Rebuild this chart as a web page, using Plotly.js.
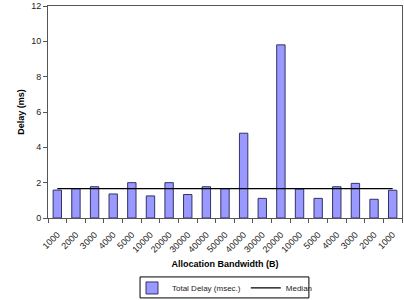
<!DOCTYPE html>
<html>
<head>
<meta charset="utf-8">
<script src="https://cdn.plot.ly/plotly-3.0.1.min.js"></script>
<style>html,body{margin:0;padding:0;background:#fff;}#chart{width:404px;height:300px;}</style>
</head>
<body>
<div id="chart"></div>
<script>
const categories = ["1000","2000","3000","4000","5000","10000","20000","30000","40000","50000","40000","30000","20000","10000","5000","4000","3000","2000","1000"];
const totalDelay = [1.58,1.66,1.77,1.36,2.0,1.25,2.0,1.33,1.77,1.66,4.8,1.11,9.8,1.64,1.11,1.77,1.96,1.06,1.57];
const medianValue = 1.66;
const yTicks = [0,2,4,6,8,10,12];

const idx = categories.map((c,i)=>i);
const medianLine = categories.map(()=>medianValue);

const traces = [
  {type:'bar', x: idx, y: totalDelay, name:'Total Delay (msec.)',
   marker:{color:'#9999ff', line:{color:'#333366', width:1}}, width:0.45},
  {type:'scatter', mode:'lines', x: idx, y: medianLine, name:'Median',
   line:{color:'#000000', width:1.3}}
];

const layout = {
  width:404, height:300,
  margin:{l:48, r:2, t:6, b:82, autoexpand:false},
  paper_bgcolor:'#fff', plot_bgcolor:'#fff',
  font:{family:'Liberation Sans, Arial, sans-serif', size:9, color:'#000'},
  showlegend:true,
  legend:{orientation:'h', x:0.5, xanchor:'center', y:-0.33, yanchor:'middle',
    bgcolor:'rgba(0,0,0,0)', borderwidth:0, font:{size:8, color:'#222'}, traceorder:'normal',
    itemwidth:30, tracegroupgap:0, valign:'middle'},
  shapes:[{type:'rect', xref:'paper', yref:'paper', x0:0.26, x1:0.737, y0:-0.377, y1:-0.278,
    line:{color:'#000', width:1}, fillcolor:'rgba(0,0,0,0)', layer:'below'}],
  xaxis:{range:[-0.5,18.5], tickmode:'array', tickvals:idx, ticktext:categories,
    tickangle:-45, ticks:'', showgrid:false, zeroline:false, automargin:false,
    ticklabelstandoff:7,
    showline:true, linecolor:'#555', linewidth:1, mirror:true,
    tickfont:{size:9, color:'#222'},
    minor:{tick0:-0.5, dtick:1, ticks:'outside', ticklen:4, tickcolor:'#555', showgrid:false},
    title:{text:'<b>Allocation Bandwidth (B)</b>', font:{size:9}, standoff:7}},
  yaxis:{range:[0,12], tickmode:'array', tickvals:yTicks, ticks:'outside', ticklen:4,
    tickcolor:'#555', showgrid:false, zeroline:false, automargin:false,
    showline:true, linecolor:'#555', linewidth:1, mirror:true,
    tickfont:{size:9, color:'#222'},
    title:{text:'<b>Delay (ms)</b>', font:{size:9}, standoff:5}}
};

Plotly.newPlot('chart', traces, layout, {displayModeBar:false, staticPlot:true});
</script>
</body>
</html>
